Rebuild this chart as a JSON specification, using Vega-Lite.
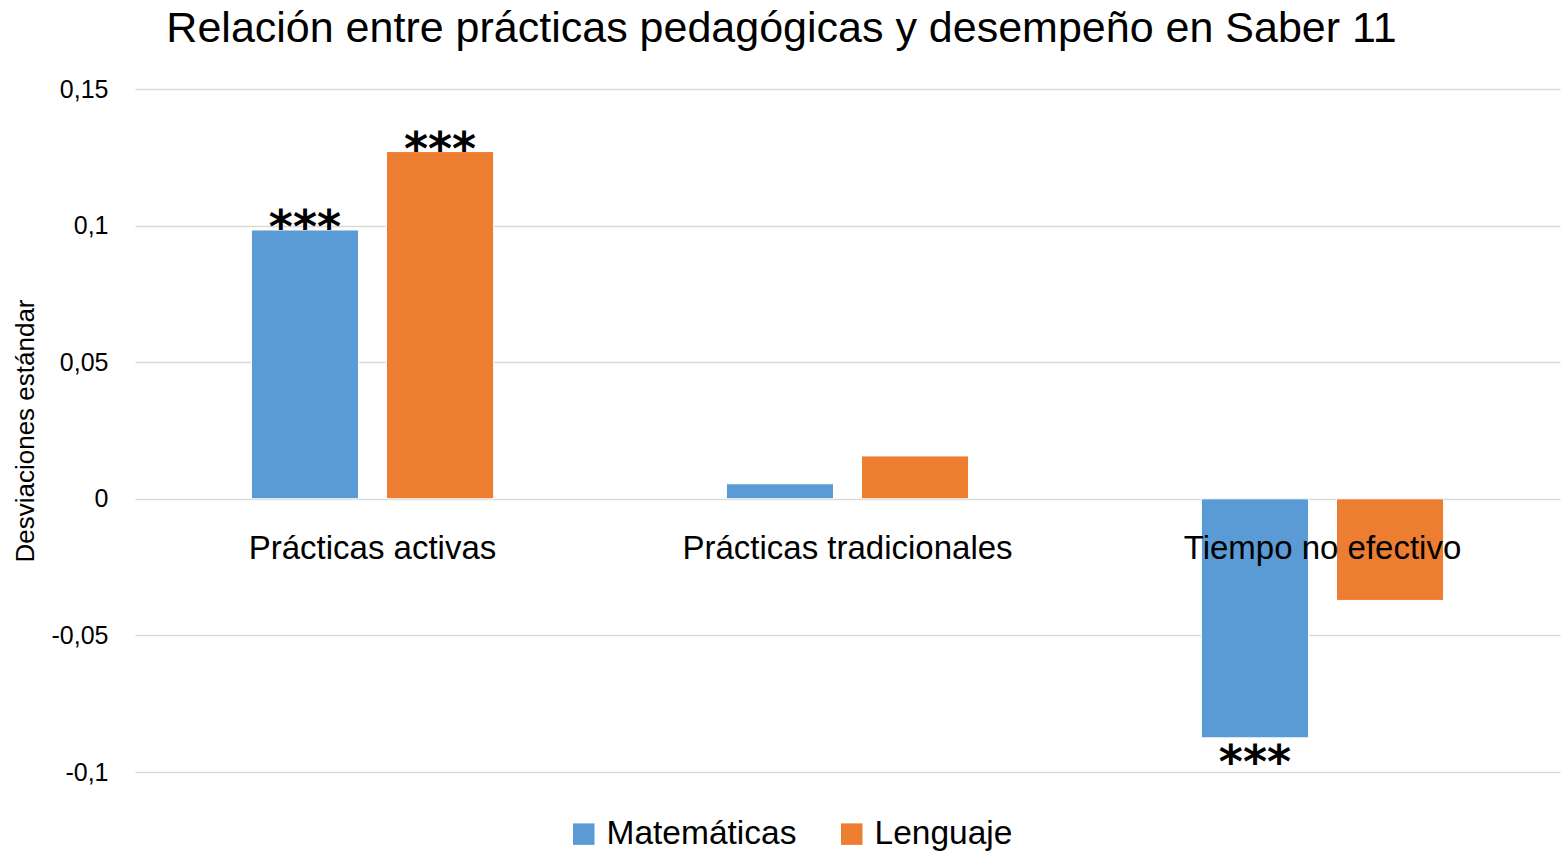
{
  "$schema": "https://vega.github.io/schema/vega-lite/v6.json",
  "width": 1425,
  "height": 683,
  "autosize": {"type": "none"},
  "padding": {"left": 135, "top": 89, "right": 1, "bottom": 80},
  "background": "white",
  "title": {
    "text": "Relación entre prácticas pedagógicas y desempeño en Saber 11",
    "font": "Liberation Sans",
    "fontSize": 43,
    "fontWeight": "normal",
    "color": "#000000",
    "anchor": "middle",
    "frame": "group",
    "dx": -66,
    "offset": 26
  },
  "data": {
    "values": [
      {"categoria": "Prácticas activas", "serie": "Matemáticas", "valor": 0.0984, "sig": "***"},
      {"categoria": "Prácticas activas", "serie": "Lenguaje", "valor": 0.1271, "sig": "***"},
      {"categoria": "Prácticas tradicionales", "serie": "Matemáticas", "valor": 0.0055, "sig": ""},
      {"categoria": "Prácticas tradicionales", "serie": "Lenguaje", "valor": 0.0157, "sig": ""},
      {"categoria": "Tiempo no efectivo", "serie": "Matemáticas", "valor": -0.0875, "sig": "***"},
      {"categoria": "Tiempo no efectivo", "serie": "Lenguaje", "valor": -0.0372, "sig": ""}
    ]
  },
  "encoding": {
    "x": {
      "field": "categoria",
      "type": "nominal",
      "sort": ["Prácticas activas", "Prácticas tradicionales", "Tiempo no efectivo"],
      "scale": {"paddingInner": 0.49, "paddingOuter": 0.245},
      "axis": {
        "title": null,
        "orient": "bottom",
        "offset": -273,
        "domain": false,
        "ticks": false,
        "labelAngle": 0,
        "labelFont": "Liberation Sans",
        "labelFontSize": 33,
        "labelColor": "#000000",
        "labelPadding": 33,
        "labelLimit": 0,
        "zindex": 2
      }
    },
    "xOffset": {
      "field": "serie",
      "type": "nominal",
      "sort": ["Matemáticas", "Lenguaje"],
      "scale": {"paddingInner": 0.2074, "paddingOuter": 0}
    },
    "y": {
      "field": "valor",
      "type": "quantitative",
      "scale": {"domain": [-0.1, 0.15], "nice": false, "zero": false},
      "axis": {
        "title": "Desviaciones estándar",
        "titleFont": "Liberation Sans",
        "titleFontSize": 26,
        "titleFontWeight": "normal",
        "titleColor": "#000000",
        "titlePadding": 13,
        "values": [-0.1, -0.05, 0, 0.05, 0.1, 0.15],
        "labelExpr": "replace(toString(datum.value), '.', ',')",
        "labelFont": "Liberation Sans",
        "labelFontSize": 25,
        "labelColor": "#000000",
        "labelPadding": 27,
        "domain": false,
        "ticks": false,
        "grid": true,
        "gridColor": "#D9D9D9",
        "gridWidth": 1.5
      }
    }
  },
  "layer": [
    {
      "mark": {"type": "bar", "stroke": "white", "strokeWidth": 1},
      "encoding": {
        "color": {
          "field": "serie",
          "type": "nominal",
          "scale": {"domain": ["Matemáticas", "Lenguaje"], "range": ["#5B9BD5", "#ED7D31"]},
          "legend": {
            "title": null,
            "orient": "none",
            "direction": "horizontal",
            "legendX": 432,
            "legendY": 728,
            "padding": 0,
            "symbolType": "square",
            "symbolSize": 462,
            "symbolStrokeWidth": 0,
            "labelFont": "Liberation Sans",
            "labelFontSize": 33.5,
            "labelColor": "#000000",
            "labelOffset": 6,
            "labelLimit": 0,
            "columnPadding": 38
          }
        }
      }
    },
    {
      "transform": [{"filter": "datum.sig != '' && datum.valor > 0"}],
      "mark": {"type": "text", "font": "DejaVu Sans", "fontSize": 46, "fontWeight": "bold", "baseline": "alphabetic", "dy": 13, "color": "#000000"},
      "encoding": {"text": {"field": "sig"}}
    },
    {
      "transform": [{"filter": "datum.sig != '' && datum.valor < 0"}],
      "mark": {"type": "text", "font": "DejaVu Sans", "fontSize": 46, "fontWeight": "bold", "baseline": "alphabetic", "dy": 40, "color": "#000000"},
      "encoding": {"text": {"field": "sig"}}
    }
  ],
  "config": {
    "view": {"stroke": null}
  }
}
